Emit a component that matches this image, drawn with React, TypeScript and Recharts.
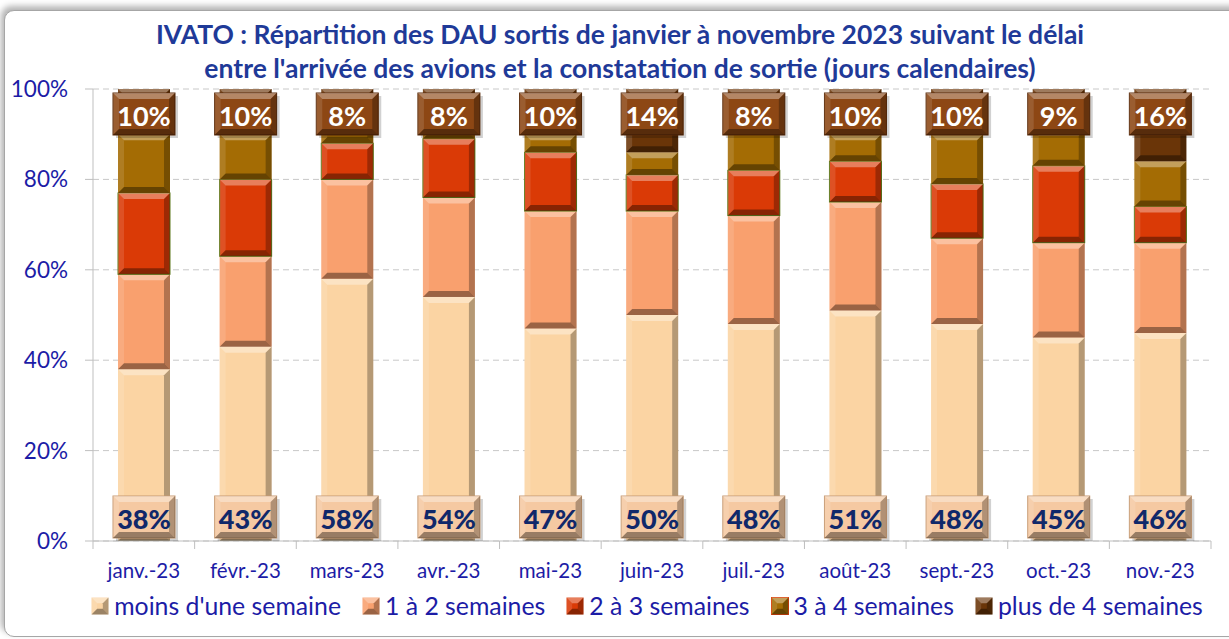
import { BarChart, Bar, XAxis, YAxis, CartesianGrid, Legend, LabelList } from 'recharts';

const months = ['janv.-23', 'févr.-23', 'mars-23', 'avr.-23', 'mai-23', 'juin-23', 'juil.-23', 'août-23', 'sept.-23', 'oct.-23', 'nov.-23'];
const moins = [38, 43, 58, 54, 47, 50, 48, 51, 48, 45, 46];
const unDeux = [21, 20, 22, 22, 26, 23, 24, 24, 19, 21, 20];
const deuxTrois = [18, 17, 8, 13, 13, 8, 10, 9, 12, 17, 8];
const troisQuatre = [13, 10, 4, 3, 4, 5, 10, 6, 11, 8, 10];
const plus = [10, 10, 8, 8, 10, 14, 8, 10, 10, 9, 16];
const yTicks = [0, 20, 40, 60, 80, 100];

const series = [
  { key: 'moins', name: "moins d'une semaine", color: '#FBD4A3', stroke: 'none' },
  { key: 'unDeux', name: '1 à 2 semaines', color: '#F9A06E', stroke: 'none' },
  { key: 'deuxTrois', name: '2 à 3 semaines', color: '#DA3A06', stroke: '#5E7A1C' },
  { key: 'troisQuatre', name: '3 à 4 semaines', color: '#A46C04', stroke: 'none' },
  { key: 'plus', name: 'plus de 4 semaines', color: '#6A3508', stroke: 'none' },
];

const data = months.map((m, i) => ({
  month: m,
  moins: moins[i],
  unDeux: unDeux[i],
  deuxTrois: deuxTrois[i],
  troisQuatre: troisQuatre[i],
  plus: plus[i],
}));

const W = 1229;
const H = 639;
const PLOT_LEFT = 93;
const PLOT_RIGHT = 1211;
const STEP = (PLOT_RIGHT - PLOT_LEFT) / months.length;
const AXIS_BLUE = '#1C1CA6';
const FONT = 'Lato, "Open Sans", sans-serif';

// bevelled rectangle like the Excel "angle" effect
const bevel = (x: number, y: number, w: number, h: number, b: number, fill: string, stroke?: string) => {
  const bb = Math.max(0, Math.min(b, h / 3, w / 3));
  return (
    <g>
      <rect x={x} y={y} width={w} height={h} fill={fill} stroke={stroke && stroke !== 'none' ? stroke : 'none'} strokeWidth={1} />
      <polygon points={`${x},${y} ${x + w},${y} ${x + w - bb},${y + bb} ${x + bb},${y + bb}`} fill="#fff" fillOpacity={0.35} />
      <polygon points={`${x},${y} ${x + bb},${y + bb} ${x + bb},${y + h - bb} ${x},${y + h}`} fill="#fff" fillOpacity={0.12} />
      <polygon points={`${x + w},${y} ${x + w},${y + h} ${x + w - bb},${y + h - bb} ${x + w - bb},${y + bb}`} fill="#000" fillOpacity={0.28} />
      <polygon points={`${x},${y + h} ${x + w},${y + h} ${x + w - bb},${y + h - bb} ${x + bb},${y + h - bb}`} fill="#000" fillOpacity={0.38} />
    </g>
  );
};

const BevelBar = (props: any) => {
  const { x, y, width, height, fill, stroke } = props;
  if (!height || height <= 0) return null;
  return bevel(x, y, width, height, 6, fill, stroke);
};

const getBox = (props: any) => {
  const vb = props.viewBox || props;
  return { x: vb.x, y: vb.y, width: vb.width, height: vb.height };
};

const BottomLabel = (props: any) => {
  const { x, y, width, height } = getBox(props);
  const bw = 62;
  const bh = 42;
  const bx = x + width / 2 - bw / 2;
  const by = y + height - bh - 3;
  return (
    <g>
      <rect x={bx + 3} y={by + 3} width={bw} height={bh} fill="#000" fillOpacity={0.18} />
      {bevel(bx, by, bw, bh, 6, '#F5C9A2', '#C79A72')}
      <text x={bx + bw / 2} y={by + bh / 2 + 1} textAnchor="middle" dominantBaseline="central" fontFamily={FONT} fontWeight={900} fontSize={27} fill="#10286A">
        {props.value}%
      </text>
    </g>
  );
};

const TopLabel = (props: any) => {
  const { x, y, width } = getBox(props);
  const bw = 62;
  const bh = 42;
  const bx = x + width / 2 - bw / 2;
  const by = y + 4;
  return (
    <g>
      <rect x={bx + 3} y={by + 3} width={bw} height={bh} fill="#000" fillOpacity={0.18} />
      {bevel(bx, by, bw, bh, 6, '#8D4714', '#5A2A08')}
      <text x={bx + bw / 2} y={by + bh / 2 + 1} textAnchor="middle" dominantBaseline="central" fontFamily={FONT} fontWeight={700} fontSize={27} fill="#FFFFFF">
        {props.value}%
      </text>
    </g>
  );
};

const MonthTick = (props: any) => {
  const { x, y, payload, index } = props;
  return (
    <g>
      <line x1={x + STEP / 2} y1={y} x2={x + STEP / 2} y2={y + 8} stroke="#BFBFBF" />
      {index === 0 && <line x1={x - STEP / 2} y1={y} x2={x - STEP / 2} y2={y + 8} stroke="#BFBFBF" />}
      <text x={x} y={y + 37} textAnchor="middle" fontFamily={FONT} fontSize={20.5} fill={AXIS_BLUE}>
        {payload.value}
      </text>
    </g>
  );
};

const LegendContent = () => (
  <div style={{ display: 'flex', justifyContent: 'center', alignItems: 'center', fontFamily: FONT, fontSize: 24.8, color: AXIS_BLUE, paddingLeft: 86 }}>
    {series.map((s) => (
      <div key={s.key} style={{ display: 'flex', alignItems: 'center', marginRight: 21 }}>
        <svg width={18} height={18} style={{ marginRight: 5 }}>
          {bevel(0.5, 0.5, 17, 17, 6, s.color, s.key === 'troisQuatre' ? '#D8440A' : undefined)}
        </svg>
        <span>{s.name}</span>
      </div>
    ))}
  </div>
);

const App = () => {
  return (
    <div style={{ position: 'fixed', left: 0, top: 0, width: W, height: H, background: '#fff', overflow: 'hidden' }}>
      <div
        style={{
          position: 'absolute',
          left: 4,
          top: 10,
          width: W + 20,
          height: H - 14,
          border: '1px solid #A6A6A6',
          borderRadius: 10,
          boxShadow: '-3px -4px 6px rgba(0,0,0,0.3)',
          background: '#fff',
        }}
      />
      <div
        style={{
          position: 'absolute',
          left: 0,
          top: 17,
          width: 1240,
          textAlign: 'center',
          fontFamily: FONT,
          fontWeight: 700,
          fontSize: 26.5,
          lineHeight: '34px',
          color: '#1F3A98',
        }}
      >
        IVATO : Répartition des DAU sortis de janvier à novembre 2023 suivant le délai
        <br />
        entre l'arrivée des avions et la constatation de sortie (jours calendaires)
      </div>
      <div style={{ position: 'absolute', left: 0, top: 0 }}>
        <BarChart width={W} height={H} data={data} margin={{ top: 89, right: W - PLOT_RIGHT, bottom: 58, left: 0 }} barSize={52}>
          <CartesianGrid vertical={false} stroke="#C8C8C8" strokeDasharray="6 4" />
          <XAxis
            dataKey="month"
            height={40}
            tickLine={false}
            tickSize={0}
            tickMargin={0}
            axisLine={{ stroke: '#BFBFBF' }}
            tick={<MonthTick />}
            interval={0}
          />
          <YAxis
            width={PLOT_LEFT}
            domain={[0, 100]}
            ticks={yTicks}
            tickFormatter={(v) => `${v}%`}
            tickSize={8}
            tickMargin={17}
            tickLine={{ stroke: '#BFBFBF' }}
            axisLine={{ stroke: '#BFBFBF' }}
            tick={{ fill: AXIS_BLUE, fontSize: 22.5, fontFamily: FONT }}
          />
          <YAxis yAxisId="right" orientation="right" width={0} tick={false} tickLine={false} axisLine={{ stroke: '#D9D9D9' }} />
          <Legend
            layout="horizontal"
            verticalAlign="middle"
            align="center"
            content={<LegendContent />}
            wrapperStyle={{ top: 591, left: 0, width: W }}
          />
          {series.map((s) => (
            <Bar
              key={s.key}
              dataKey={s.key}
              name={s.name}
              stackId="a"
              fill={s.color}
              stroke={s.stroke}
              shape={<BevelBar />}
              isAnimationActive={false}
            >
              {s.key === 'moins' && <LabelList dataKey="moins" content={<BottomLabel />} />}
              {s.key === 'plus' && <LabelList dataKey="plus" content={<TopLabel />} />}
            </Bar>
          ))}
        </BarChart>
      </div>
    </div>
  );
};

export default App;
